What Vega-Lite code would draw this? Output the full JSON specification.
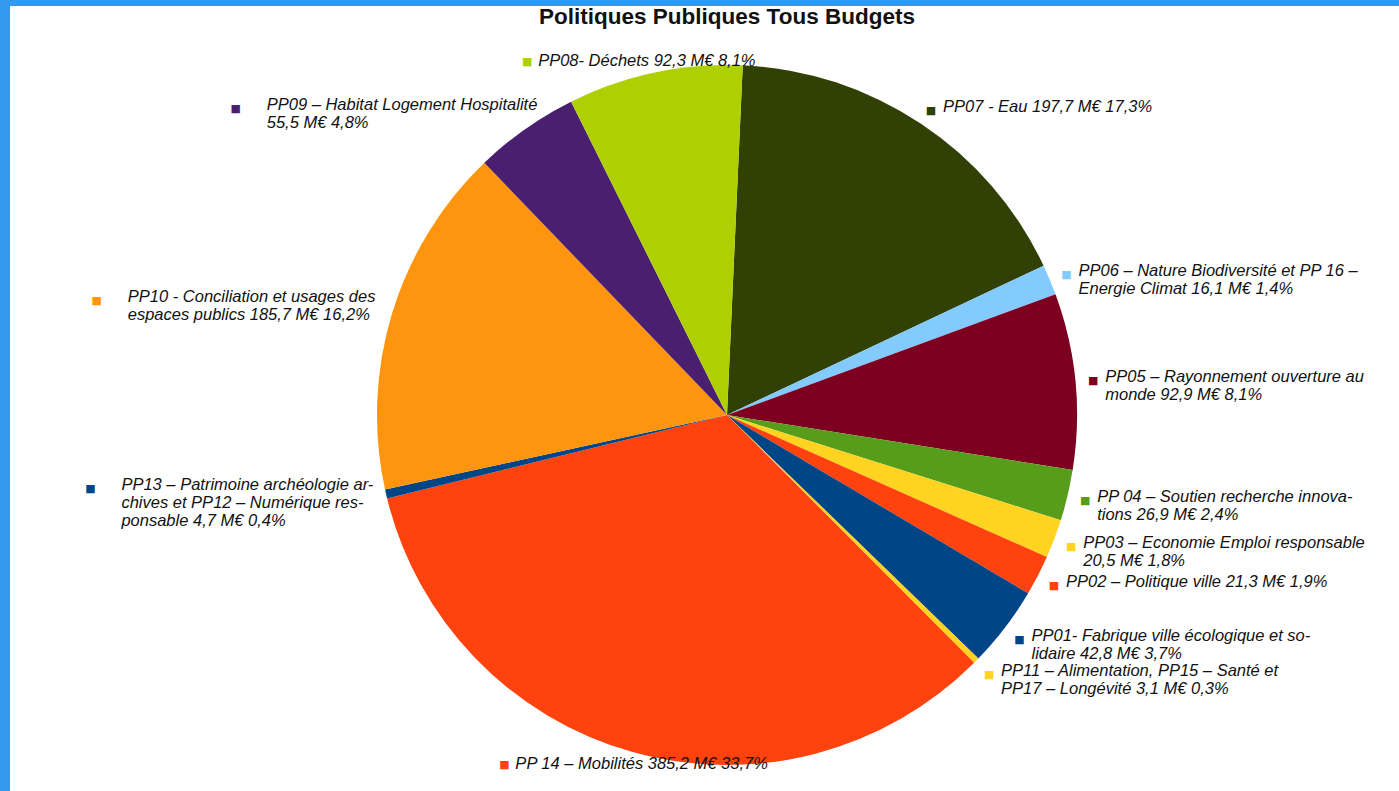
{
  "$schema": "https://vega.github.io/schema/vega-lite/v6.json",
  "width": 1344,
  "height": 728,
  "autosize": {"type": "none"},
  "padding": {"left": 55, "top": 51, "right": 0, "bottom": 12},
  "background": "#3399ee",
  "view": {"fill": "white", "stroke": "white", "strokeWidth": 90},
  "title": {
    "text": "Politiques Publiques Tous Budgets",
    "font": "Liberation Sans",
    "fontSize": 22.5,
    "fontWeight": "bold",
    "color": "#111111",
    "anchor": "middle",
    "frame": "group",
    "baseline": "alphabetic",
    "offset": -9
  },
  "config": {
    "view": {"fill": "white", "stroke": "white", "strokeWidth": 90},
    "style": {"view": {"fill": "white", "stroke": "white", "strokeWidth": 90}}
  },
  "data": {
    "values": [
      {"ord": 1, "code": "PP07", "value": 197.7, "label": "PP07 - Eau  197,7 M€ 17,3%"},
      {"ord": 2, "code": "PP06", "value": 16.1, "label": "PP06 – Nature Biodiversité et PP 16 –\nEnergie Climat 16,1 M€ 1,4%"},
      {"ord": 3, "code": "PP05", "value": 92.9, "label": "PP05 – Rayonnement ouverture au\nmonde 92,9 M€ 8,1%"},
      {"ord": 4, "code": "PP04", "value": 26.9, "label": "PP 04 – Soutien recherche innova-\ntions 26,9 M€ 2,4%"},
      {"ord": 5, "code": "PP03", "value": 20.5, "label": "PP03 – Economie Emploi responsable\n20,5 M€ 1,8%"},
      {"ord": 6, "code": "PP02", "value": 21.3, "label": "PP02 – Politique ville 21,3 M€ 1,9%"},
      {"ord": 7, "code": "PP01", "value": 42.8, "label": "PP01- Fabrique ville écologique et so-\nlidaire 42,8 M€ 3,7%"},
      {"ord": 8, "code": "PP11", "value": 3.1, "label": "PP11 – Alimentation, PP15 – Santé et\nPP17 – Longévité 3,1 M€ 0,3%"},
      {"ord": 9, "code": "PP14", "value": 385.2, "label": "PP 14 – Mobilités 385,2 M€ 33,7%"},
      {"ord": 10, "code": "PP13", "value": 4.7, "label": "PP13 – Patrimoine archéologie ar-\nchives et PP12 – Numérique res-\nponsable 4,7 M€ 0,4%"},
      {"ord": 11, "code": "PP10", "value": 185.7, "label": "PP10 - Conciliation et usages des\nespaces publics  185,7 M€ 16,2%"},
      {"ord": 12, "code": "PP09", "value": 55.5, "label": "PP09 – Habitat Logement Hospitalité\n55,5 M€ 4,8%"},
      {"ord": 13, "code": "PP08", "value": 92.3, "label": "PP08- Déchets 92,3 M€ 8,1%"}
    ]
  },
  "encoding": {
    "theta": {"field": "value", "type": "quantitative", "stack": true, "scale": {"range": [0.045, 6.3282]}},
    "order": {"field": "ord", "type": "quantitative"}
  },
  "layer": [
    {
      "mark": {"type": "arc", "outerRadius": 350},
      "encoding": {
        "color": {
          "field": "code",
          "type": "nominal",
          "legend": null,
          "scale": {
            "domain": ["PP07", "PP06", "PP05", "PP04", "PP03", "PP02", "PP01", "PP11", "PP14", "PP13", "PP10", "PP09", "PP08"],
            "range": ["#314004", "#83caff", "#7e0021", "#579d1c", "#ffd320", "#ff420e", "#004586", "#ffd320", "#ff420e", "#004586", "#ff950e", "#4b1f6f", "#aecf00"]
          }
        }
      }
    },
    {
      "mark": {"type": "text", "radius": 368, "align": "left", "baseline": "top", "dx": 12, "dy": -10, "font": "Liberation Sans", "fontStyle": "italic", "fontSize": 16.5, "lineHeight": 18, "lineBreak": "\n", "color": "#111111"},
      "encoding": {
        "detail": {"field": "code", "type": "nominal"},
        "text": {"condition": {"test": "indexof(['PP07','PP06','PP05','PP04','PP03','PP02','PP01','PP11'], datum.code) >= 0", "field": "label", "type": "nominal"}, "value": ""}
      }
    },
    {
      "mark": {"type": "text", "radius": 368, "align": "center", "baseline": "middle", "dy": 2, "font": "DejaVu Sans", "fontSize": 11},
      "encoding": {
        "color": {"field": "code", "type": "nominal", "legend": null},
        "text": {"condition": {"test": "indexof(['PP07','PP06','PP05','PP04','PP03','PP02','PP01','PP11'], datum.code) >= 0", "value": "■"}, "value": ""}
      }
    },
    {
      "mark": {"type": "text", "radius": 365, "align": "left", "baseline": "top", "dx": -250, "dy": -20, "font": "Liberation Sans", "fontStyle": "italic", "fontSize": 16.5, "lineHeight": 18, "lineBreak": "\n", "color": "#111111"},
      "encoding": {
        "detail": {"field": "code", "type": "nominal"},
        "text": {"condition": {"test": "indexof(['PP13','PP10','PP09'], datum.code) >= 0", "field": "label", "type": "nominal"}, "value": ""}
      }
    },
    {
      "mark": {"type": "text", "radius": 365, "align": "center", "baseline": "middle", "dx": -281, "dy": -8, "font": "DejaVu Sans", "fontSize": 11},
      "encoding": {
        "color": {"field": "code", "type": "nominal", "legend": null},
        "text": {"condition": {"test": "indexof(['PP13','PP10','PP09'], datum.code) >= 0", "value": "■"}, "value": ""}
      }
    },
    {
      "mark": {"type": "text", "radius": 362, "align": "left", "baseline": "middle", "dx": -114, "font": "Liberation Sans", "fontStyle": "italic", "fontSize": 16.5, "lineHeight": 18, "lineBreak": "\n", "color": "#111111"},
      "encoding": {
        "detail": {"field": "code", "type": "nominal"},
        "text": {"condition": {"test": "indexof(['PP14','PP08'], datum.code) >= 0", "field": "label", "type": "nominal"}, "value": ""}
      }
    },
    {
      "mark": {"type": "text", "radius": 362, "align": "center", "baseline": "middle", "dx": -125, "dy": 1, "font": "DejaVu Sans", "fontSize": 11},
      "encoding": {
        "color": {"field": "code", "type": "nominal", "legend": null},
        "text": {"condition": {"test": "indexof(['PP14','PP08'], datum.code) >= 0", "value": "■"}, "value": ""}
      }
    }
  ]
}
